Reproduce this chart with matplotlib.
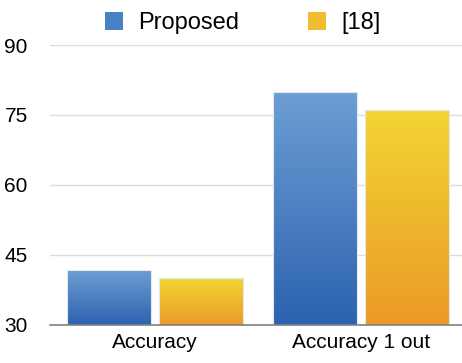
import numpy as np
import matplotlib.pyplot as plt
from matplotlib.colors import LinearSegmentedColormap
from matplotlib.patches import Patch

plt.rcParams['font.family'] = ['Liberation Sans', 'DejaVu Sans']

# datos
categorias = ['Accuracy', 'Accuracy 1 out']
series = ['Proposed', '[18]']
valores_propuesto = [41.8, 80.0]
valores_ref18 = [40.0, 76.0]
ticks_y = [30, 45, 60, 75, 90]

# degradados (arriba claro -> abajo oscuro)
grad_azul = LinearSegmentedColormap.from_list('azul', ['#2c62b0', '#6d9fd3'])
grad_amarillo = LinearSegmentedColormap.from_list('amarillo', ['#eb9a27', '#f2d533'])
colores_leyenda = ['#4a80c4', '#f0bd2e']

fig = plt.figure(figsize=(4.62, 3.63), dpi=100)
ax = fig.add_axes([0.108, 0.105, 0.892, 0.771])

ancho = 0.41
desplaz = 0.223
base = ticks_y[0]
x = np.arange(len(categorias))

gradiente = np.linspace(0, 1, 256).reshape(-1, 1)

for valores, off, cmap in [(valores_propuesto, -desplaz, grad_azul),
                           (valores_ref18, desplaz, grad_amarillo)]:
    barras = ax.bar(x + off, np.array(valores) - base, bottom=base, width=ancho,
                    color='none', edgecolor='#e4e8ee', linewidth=0.8, zorder=3)
    for b in barras:
        x0, y0 = b.get_x(), b.get_y()
        w, h = b.get_width(), b.get_height()
        im = ax.imshow(gradiente, cmap=cmap, aspect='auto', origin='lower',
                       extent=[x0, x0 + w, y0, y0 + h], zorder=2)
        im.set_clip_path(b)

ax.set_xlim(-0.51, 1.49)
ax.set_ylim(30, 90)
ax.set_yticks(ticks_y)
ax.set_xticks(x)
ax.set_xticklabels(categorias, fontsize=15)
ax.tick_params(axis='y', labelsize=15, length=0, pad=16)
ax.tick_params(axis='x', length=0, pad=6)

ax.grid(axis='y', color='#dcdcdc', linewidth=1, zorder=0)
ax.set_axisbelow(True)
for s in ['top', 'right', 'left']:
    ax.spines[s].set_visible(False)
ax.spines['bottom'].set_color('#808080')
ax.spines['bottom'].set_linewidth(1.2)
ax.spines['bottom'].set_zorder(4)

manejadores = [Patch(facecolor=c, edgecolor='none') for c in colores_leyenda]
fig.legend(manejadores, series, loc='upper center', bbox_to_anchor=(0.525, 1.025),
           ncol=2, frameon=False, fontsize=17, handlelength=0.77, handleheight=0.77,
           columnspacing=2.9, handletextpad=0.65)

plt.savefig('out.png', dpi=100)
plt.close()
